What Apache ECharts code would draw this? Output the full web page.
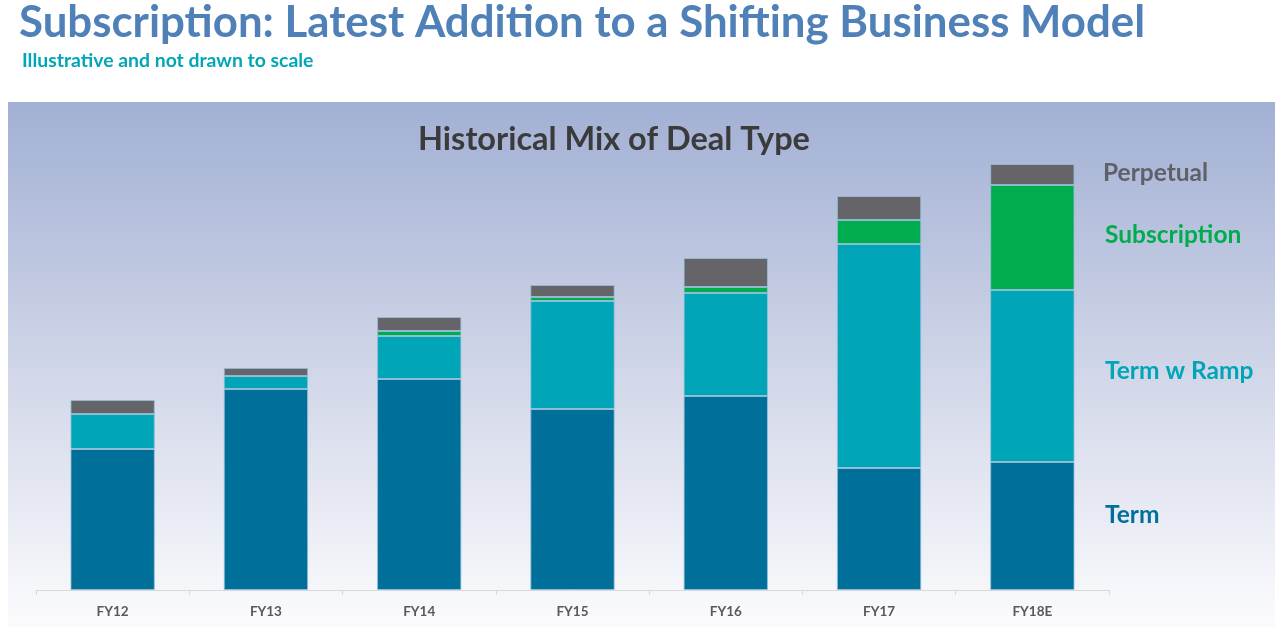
<!DOCTYPE html>
<html><head><meta charset="utf-8">
<script src="https://cdn.jsdelivr.net/npm/echarts@6/dist/echarts.min.js"></script>
<style>html,body{margin:0;padding:0;background:#fff}#c{width:1275px;height:627px}</style>
</head><body><div id="c"></div>
<script>
const categories = ['FY12','FY13','FY14','FY15','FY16','FY17','FY18E'];
const term = [141, 201, 211, 181, 194, 122, 128];
const termRamp = [35, 13, 43, 108, 103, 224, 172];
const subscription = [0, 0, 5, 4, 6, 24, 105];
const perpetual = [14, 8, 14, 12, 29, 24, 21];
const seriesNames = ['Term','Term w Ramp','Subscription','Perpetual'];
const colors = ['#00709b','#00a5b8','#00ad4e','#646469'];

const chart = echarts.init(document.getElementById('c'));
const font = 'Lato, "Open Sans", sans-serif';
const mk = (name, data, color) => ({
  name, type: 'bar', stack: 'total', data, barWidth: '55%',
  itemStyle: { color, borderColor: 'rgba(150,190,215,0.8)', borderWidth: 1 },
  emphasis: { disabled: true }
});
const txt = (text, x, y, fill, size, align) => ({
  type: 'text', style: { text, x, y, fill, font: 'bold ' + size + 'px ' + font, align: align || 'left', verticalAlign: 'middle' }
});
chart.setOption({
  animation: false,
  grid: { left: 36, right: 166, top: 150, bottom: 37 },
  xAxis: {
    type: 'category', data: categories,
    axisLine: { lineStyle: { color: '#d9d9d9' } },
    axisTick: { show: true, lineStyle: { color: '#d9d9d9' } },
    axisLabel: { color: '#595959', fontWeight: 'bold', fontSize: 13.5, fontFamily: font, margin: 15 }
  },
  yAxis: { type: 'value', min: 0, max: 440, show: false, splitLine: { show: false } },
  graphic: [
    { type: 'rect', z: -10, shape: { x: 8, y: 102, width: 1267, height: 525 },
      style: { fill: new echarts.graphic.LinearGradient(0, 0, 0, 1, [
        { offset: 0, color: '#a2b0d4' }, { offset: 0.55, color: '#d4d9ea' }, { offset: 0.95, color: '#f7f8fb' }, { offset: 1, color: '#fbfbfd' }]) } },
    txt('Subscription: Latest Addition to a Shifting Business Model', 19, 23, '#4f81b8', 43.8),
    txt('Illustrative and not drawn to scale', 22, 61, '#00a6b6', 19.4),
    txt('Historical Mix of Deal Type', 614, 140, '#3b3b3b', 32.5, 'center'),
    txt(seriesNames[3], 1103, 173, '#606068', 24.5),
    txt(seriesNames[2], 1105, 235, '#00ad4e', 24.5),
    txt(seriesNames[1], 1105, 371, '#00a5b8', 24.5),
    txt(seriesNames[0], 1105, 515, '#00709b', 24.5)
  ],
  series: [
    mk(seriesNames[0], term, colors[0]),
    mk(seriesNames[1], termRamp, colors[1]),
    mk(seriesNames[2], subscription, colors[2]),
    mk(seriesNames[3], perpetual, colors[3])
  ]
});
</script></body></html>
